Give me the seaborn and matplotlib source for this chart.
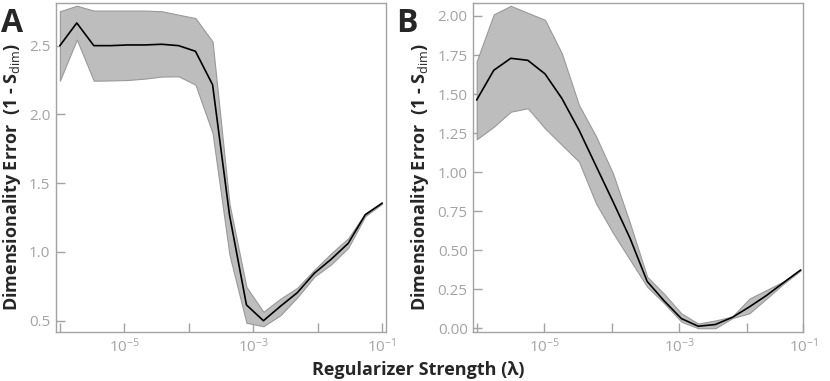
import numpy as np
import pandas as pd
import matplotlib
matplotlib.use("Agg")
import matplotlib.pyplot as plt
from matplotlib.ticker import NullLocator
import seaborn as sns

# regularizer sweep, panel A
lam_a = [1.00e-6, 1.83e-6, 3.36e-6, 6.16e-6, 1.13e-5, 2.07e-5, 3.79e-5, 6.95e-5,
         1.27e-4, 2.34e-4, 4.28e-4, 7.85e-4, 1.44e-3, 2.64e-3, 4.83e-3, 8.86e-3,
         1.62e-2, 2.98e-2, 5.46e-2, 1.00e-1]
mean_a = [2.50, 2.665, 2.50, 2.50, 2.505, 2.505, 2.51, 2.50, 2.459, 2.216,
          1.27, 0.615, 0.50, 0.605, 0.704, 0.845, 0.947, 1.063, 1.27, 1.355]
upper_a = [2.75, 2.79, 2.755, 2.755, 2.755, 2.755, 2.75, 2.725, 2.70, 2.53,
           1.35, 0.745, 0.565, 0.66, 0.74, 0.87, 0.99, 1.10, 1.28, 1.36]
lower_a = [2.245, 2.544, 2.245, 2.247, 2.25, 2.26, 2.275, 2.277, 2.216, 1.865,
           0.98, 0.485, 0.46, 0.54, 0.67, 0.82, 0.91, 1.03, 1.26, 1.35]

# regularizer sweep, panel B
lam_b = [1.00e-6, 1.79e-6, 3.20e-6, 5.73e-6, 1.03e-5, 1.83e-5, 3.28e-5, 5.86e-5,
         1.05e-4, 1.88e-4, 3.36e-4, 6.01e-4, 1.08e-3, 1.92e-3, 3.44e-3, 6.15e-3,
         1.10e-2, 1.97e-2, 3.52e-2, 6.31e-2]
mean_b = [1.462, 1.652, 1.729, 1.716, 1.629, 1.472, 1.27, 1.04, 0.81, 0.575,
          0.30, 0.175, 0.062, 0.013, 0.024, 0.07, 0.137, 0.21, 0.292, 0.373]
upper_b = [1.71, 2.01, 2.065, 2.02, 1.975, 1.76, 1.43, 1.23, 0.99, 0.67,
           0.33, 0.22, 0.095, 0.03, 0.05, 0.075, 0.19, 0.245, 0.30, 0.376]
lower_b = [1.21, 1.29, 1.387, 1.409, 1.28, 1.174, 1.067, 0.80, 0.61, 0.437,
           0.266, 0.16, 0.042, 0.0, 0.0, 0.065, 0.096, 0.19, 0.285, 0.37]

yticks_a = [0.5, 1.0, 1.5, 2.0, 2.5]
yticks_b = [0.0, 0.25, 0.5, 0.75, 1.0, 1.25, 1.5, 1.75, 2.0]
decades = [1e-6, 1e-5, 1e-4, 1e-3, 1e-2, 1e-1]
decade_labels = ["", r"$10^{-5}$", "", r"$10^{-3}$", "", r"$10^{-1}$"]

sns.set_style("white")
plt.rcParams["font.family"] = ["Open Sans", "DejaVu Sans"]
plt.rcParams["mathtext.fontset"] = "custom"
plt.rcParams["mathtext.rm"] = "Open Sans"
plt.rcParams["mathtext.it"] = "Open Sans"
plt.rcParams["mathtext.bf"] = "Open Sans:bold"

GREY = "#a3a3a3"
FILL = "#bdbdbd"

fig = plt.figure(figsize=(8.3, 3.81), dpi=100)
ax_a = fig.add_axes([56 / 830, 49 / 381, 330 / 830, 329 / 381])
ax_b = fig.add_axes([473.3 / 830, 49.3 / 381, 330 / 830, 329 / 381])


def draw_panel(ax, lam, mean, lo, hi):
    df = pd.DataFrame({"lam": lam, "mean": mean, "lo": lo, "hi": hi})
    ax.fill_between(df["lam"], df["lo"], df["hi"], facecolor=FILL,
                    edgecolor="#999999", linewidth=0.8, zorder=1)
    sns.lineplot(data=df, x="lam", y="mean", color="black", linewidth=1.2,
                 errorbar=None, ax=ax, zorder=2)
    ax.set_xscale("log")
    ax.set_xlabel("")
    ax.set_ylabel("")
    for s in ax.spines.values():
        s.set_color(GREY)
        s.set_linewidth(1.0)
    ax.tick_params(bottom=True, left=True, direction="in", length=6.5,
                   width=1.0, color=GREY, labelcolor=GREY, labelsize=11, pad=4)
    ax.xaxis.set_minor_locator(NullLocator())
    ax.yaxis.set_minor_locator(NullLocator())


draw_panel(ax_a, lam_a, mean_a, lower_a, upper_a)
ax_a.set_xlim(10 ** -6.06, 10 ** -0.94)
ax_a.set_ylim(0.418, 2.81)
ax_a.set_xticks(decades)
ax_a.set_xticklabels(decade_labels)
ax_a.set_yticks(yticks_a)
ax_a.set_yticklabels([f"{v:.1f}" for v in yticks_a])

draw_panel(ax_b, lam_b, mean_b, lower_b, upper_b)
xmax_b = 10 ** -1.16
ax_b.set_xlim(10 ** -6.05, xmax_b)
ax_b.set_ylim(-0.022, 2.085)
ax_b.set_xticks(decades[:-1] + [xmax_b])
ax_b.set_xticklabels(decade_labels)
ax_b.set_yticks(yticks_b)
ax_b.set_yticklabels([f"{v:.2f}" for v in yticks_b])

ylab = r"Dimensionality Error  (1 - S$_{\mathrm{dim}}$)"
fig.text(12.5 / 830, 0.535, ylab, rotation=90, ha="center", va="center",
         fontsize=13, fontweight="bold")
fig.text(420 / 830, 0.535, ylab, rotation=90, ha="center", va="center",
         fontsize=13, fontweight="bold")
fig.text(1 / 830, 349 / 381, "A", fontsize=23, fontweight="bold", va="baseline")
fig.text(396 / 830, 349 / 381, "B", fontsize=23, fontweight="bold", va="baseline")
fig.text(418.5 / 830, 6 / 381, r"Regularizer Strength (λ)", ha="center",
         va="baseline", fontsize=13, fontweight="bold")

fig.savefig("out.png", dpi=100)
